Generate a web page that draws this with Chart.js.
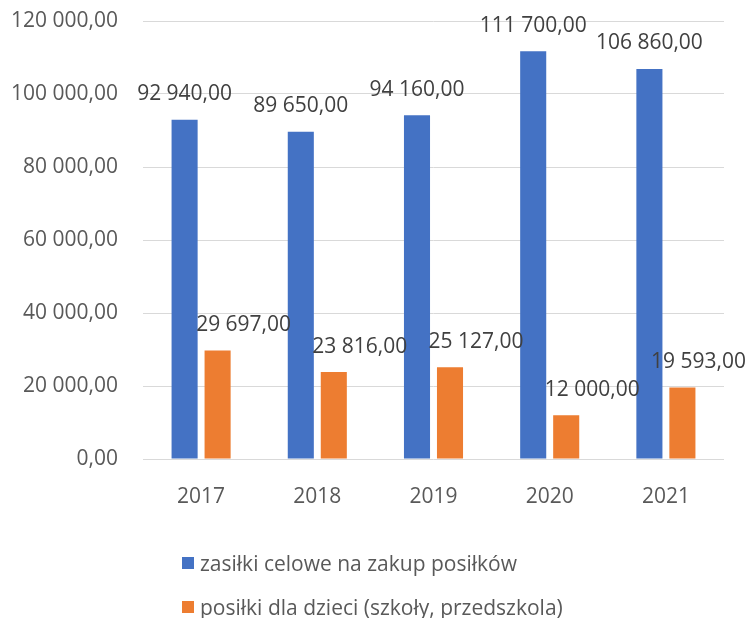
<!DOCTYPE html>
<html>
<head>
<meta charset="utf-8">
<script src="https://cdn.jsdelivr.net/npm/chart.js@4.4.0/dist/chart.umd.min.js"></script>
<style>
  html, body { margin: 0; padding: 0; background: #fff; }
  #wrap { position: relative; width: 746px; height: 618px; }
  #legend { position: absolute; left: 182px; top: 541px; font-family: "Open Sans", sans-serif; font-size: 21px; color: #595959; }
  .item { display: flex; align-items: center; height: 44px; }
  .box { width: 12px; height: 12px; margin-right: 6px; }
</style>
</head>
<body>
<div id="wrap">
  <canvas id="myChart" width="746" height="618"></canvas>
  <div id="legend"></div>
</div>
<script>
var years = ['2017', '2018', '2019', '2020', '2021'];
var zasilki = [92940, 89650, 94160, 111700, 106860];
var posilki = [29697, 23816, 25127, 12000, 19593];
var seriesNames = ['zasiłki celowe na zakup posiłków', 'posiłki dla dzieci (szkoły, przedszkola)'];

function fmt(v) {
    var parts = Number(v).toFixed(2).split('.');
    var s = parts[0].replace(/\B(?=(\d{3})+(?!\d))/g, ' ');
    return s + ',' + parts[1];
}

const fontFamily = '"Open Sans", sans-serif';

// labels over bars, orange ones shifted right like in the excel original
const barLabels = {
    id: 'barLabels',
    afterDatasetsDraw(chart) {
        const ctx = chart.ctx;
        ctx.save();
        ctx.font = '21px ' + fontFamily;
        ctx.fillStyle = '#404040';
        ctx.textAlign = 'center';
        ctx.textBaseline = 'middle';
        chart.data.datasets.forEach(function (ds, di) {
            const meta = chart.getDatasetMeta(di);
            const dx = di === 1 ? 26 : 0;
            meta.data.forEach(function (bar, i) {
                const txt = fmt(ds.data[i]);
                const w = ctx.measureText(txt).width;
                let x = bar.x + dx;
                if (x + w / 2 > chart.width) x = chart.width - w / 2;
                ctx.fillText(txt, x, bar.y - 25.5);
            });
        });
        ctx.restore();
    }
};

const data = {
    labels: years,
    datasets: [{
        label: seriesNames[0],
        backgroundColor: '#4472C4',
        data: zasilki,
        categoryPercentage: 0.568,
        barPercentage: 0.79
    }, {
        label: seriesNames[1],
        backgroundColor: '#ED7D31',
        data: posilki,
        categoryPercentage: 0.568,
        barPercentage: 0.79
    }]
};

const config = {
    type: 'bar',
    data: data,
    plugins: [barLabels],
    options: {
        responsive: false,
        animation: false,
        layout: { padding: { top: 21, right: 22, left: 0, bottom: 0 } },
        plugins: {
            legend: { display: false },
            tooltip: { enabled: false }
        },
        scales: {
            x: {
                grid: { display: false, drawTicks: false },
                border: { display: false },
                ticks: { color: '#595959', font: { family: fontFamily, size: 21 }, padding: 25 },
                afterFit(scale) { scale.height = 159; }
            },
            y: {
                min: 0,
                max: 120000,
                grid: { color: '#D9D9D9', lineWidth: 1, drawTicks: false },
                border: { display: false },
                ticks: {
                    stepSize: 20000,
                    color: '#595959',
                    font: { family: fontFamily, size: 21 },
                    padding: 25,
                    callback: function (v) { return fmt(v); }
                },
                afterFit(scale) {
                    scale.width = 143;
                    scale.paddingTop = 0;
                    scale.paddingBottom = 0;
                }
            }
        }
    }
};

const myChart = new Chart(document.getElementById('myChart'), config);

// legend stacked vertically under the chart
var legendEl = document.getElementById('legend');
myChart.data.datasets.forEach(function (ds) {
    var row = document.createElement('div');
    row.className = 'item';
    var box = document.createElement('span');
    box.className = 'box';
    box.style.background = ds.backgroundColor;
    var label = document.createElement('span');
    label.textContent = ds.label;
    row.appendChild(box);
    row.appendChild(label);
    legendEl.appendChild(row);
});
</script>
</body>
</html>
